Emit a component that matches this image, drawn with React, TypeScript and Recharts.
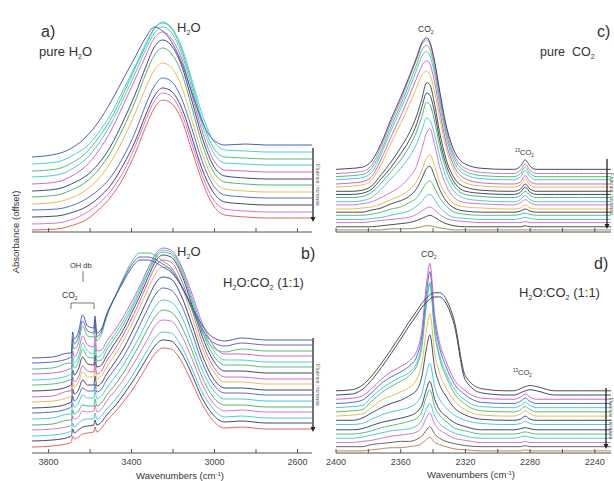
import React from 'react';
import { LineChart, Line, XAxis, YAxis } from 'recharts';

const FONT = 'Arial, "Liberation Sans", Helvetica, sans-serif';

// ---------- Panel a: pure H2O, O-H stretch region (offset absorbance, bottom -> top)
const WN_A = [3880, 3760, 3680, 3620, 3560, 3500, 3440, 3380, 3330, 3290, 3250, 3210, 3160, 3110, 3060, 3010, 2950, 2850, 2750, 2640, 2530];
const SPEC_A = [
  [2, 3, 7, 12, 22, 35, 54, 80, 106, 124, 132, 129, 113, 82, 51, 28, 17, 15, 14, 14, 14],
  [8, 9, 13, 19, 28, 41, 60, 87, 113, 131, 139, 136, 119, 89, 57, 34, 23, 21, 20, 20, 20],
  [15, 16, 20, 25, 34, 47, 67, 92, 118, 136, 144, 141, 125, 95, 63, 41, 30, 28, 27, 27, 27],
  [22, 23, 27, 33, 42, 55, 75, 101, 128, 146, 154, 151, 134, 104, 71, 48, 37, 35, 34, 34, 34],
  [28, 30, 35, 42, 53, 70, 93, 120, 145, 162, 169, 165, 146, 113, 79, 54, 43, 41, 40, 40, 40],
  [35, 37, 43, 50, 62, 80, 104, 132, 159, 177, 184, 179, 160, 125, 88, 62, 50, 48, 47, 47, 47],
  [41, 43, 49, 56, 68, 86, 111, 139, 166, 185, 192, 187, 167, 132, 95, 68, 56, 54, 53, 53, 53],
  [48, 50, 57, 66, 81, 101, 127, 154, 177, 194, 200, 194, 174, 138, 101, 74, 62, 61, 60, 60, 60],
  [55, 57, 64, 73, 88, 108, 133, 160, 183, 199, 205, 200, 179, 144, 107, 81, 69, 68, 67, 67, 67],
  [61, 63, 70, 79, 94, 113, 138, 165, 187, 203, 209, 204, 183, 149, 112, 86, 75, 74, 73, 73, 73],
  [68, 70, 77, 85, 99, 118, 142, 167, 189, 204, 210, 205, 186, 153, 118, 93, 82, 81, 80, 80, 80],
  [75, 78, 85, 95, 110, 130, 153, 176, 195, 205, 201, 191, 170, 140, 111, 93, 87, 88, 87, 87, 87],
];
const COL_A = ['#e4514d', '#d465c8', '#30335e', '#3d5fcc', '#e2b540', '#40ad5c', '#2c3466', '#c955c6', '#3cc3ce', '#47b867', '#39c9d4', '#3550b0'];

// ---------- Panel b: H2O:CO2 (1:1), O-H stretch region
const WN_B = [3880, 3780, 3700, 3690, 3684, 3676, 3656, 3636, 3612, 3582, 3576, 3568, 3545, 3520, 3480, 3440, 3400, 3360, 3320, 3280, 3250, 3210, 3160, 3110, 3060, 3010, 2950, 2870, 2750, 2640, 2530];
const SPEC_B = [
  [6, 7, 10, 11, 17, 14, 16, 19, 20, 21, 26, 21, 25, 32, 41, 51, 62, 75, 89, 101, 105, 104, 92, 71, 49, 33, 25, 26, 24, 24, 24],
  [12, 13, 16, 17, 24, 20, 23, 26, 27, 28, 33, 28, 31, 38, 47, 58, 70, 83, 97, 109, 113, 112, 100, 79, 55, 39, 31, 32, 30, 30, 30],
  [17, 18, 21, 22, 30, 26, 30, 33, 34, 34, 40, 34, 37, 44, 53, 64, 76, 90, 104, 117, 121, 120, 107, 85, 61, 45, 36, 37, 35, 35, 35],
  [23, 24, 27, 28, 37, 34, 36, 42, 41, 42, 48, 41, 44, 52, 62, 73, 86, 100, 115, 129, 133, 132, 118, 95, 69, 51, 42, 43, 41, 41, 41],
  [28, 29, 33, 33, 43, 39, 42, 48, 47, 47, 54, 47, 50, 58, 68, 80, 94, 109, 125, 138, 143, 141, 127, 103, 76, 57, 48, 48, 46, 46, 46],
  [34, 35, 39, 39, 50, 46, 50, 58, 55, 55, 63, 54, 57, 65, 76, 88, 102, 117, 134, 148, 153, 151, 137, 111, 83, 64, 54, 54, 52, 52, 52],
  [40, 41, 45, 46, 57, 52, 57, 65, 62, 62, 69, 61, 64, 73, 84, 96, 111, 128, 145, 160, 165, 163, 148, 121, 91, 70, 60, 60, 58, 58, 58],
  [45, 46, 50, 51, 64, 59, 63, 73, 68, 68, 77, 67, 70, 79, 91, 104, 120, 137, 155, 171, 176, 174, 157, 129, 98, 76, 65, 65, 63, 63, 63],
  [51, 52, 56, 57, 70, 66, 71, 81, 76, 76, 85, 74, 77, 86, 98, 112, 128, 146, 164, 181, 186, 184, 167, 137, 105, 83, 71, 71, 69, 69, 69],
  [56, 57, 62, 62, 76, 71, 76, 87, 82, 81, 91, 79, 82, 92, 104, 118, 134, 152, 171, 188, 193, 191, 173, 144, 111, 88, 76, 76, 74, 74, 74],
  [62, 63, 67, 68, 83, 78, 84, 96, 89, 88, 98, 86, 88, 97, 110, 123, 140, 157, 176, 193, 198, 196, 179, 149, 117, 94, 82, 82, 80, 80, 80],
  [68, 69, 73, 74, 90, 85, 91, 104, 96, 95, 105, 92, 93, 103, 115, 128, 144, 161, 180, 196, 201, 199, 182, 153, 122, 99, 88, 88, 86, 86, 86],
  [73, 74, 78, 79, 96, 90, 96, 110, 102, 99, 110, 96, 98, 107, 119, 132, 147, 164, 182, 198, 203, 201, 185, 156, 126, 104, 93, 93, 91, 91, 91],
  [79, 80, 84, 85, 102, 96, 103, 117, 108, 106, 117, 102, 103, 112, 123, 136, 151, 167, 185, 200, 205, 203, 187, 160, 130, 109, 99, 99, 97, 97, 97],
  [84, 85, 90, 90, 109, 104, 110, 127, 117, 116, 127, 112, 119, 136, 156, 175, 191, 200, 200, 197, 192, 186, 168, 144, 121, 106, 101, 104, 102, 102, 102],
  [90, 91, 95, 96, 115, 109, 116, 132, 122, 120, 133, 116, 122, 138, 156, 173, 188, 196, 196, 193, 189, 183, 167, 146, 124, 111, 107, 110, 108, 108, 108],
  [95, 96, 100, 100, 121, 114, 121, 138, 127, 125, 137, 120, 124, 139, 156, 171, 185, 193, 193, 190, 186, 181, 167, 147, 128, 116, 112, 115, 113, 113, 113],
];
const COL_B = ['#e4514d', '#30335e', '#3cc3ce', '#d465c8', '#40ad5c', '#3cc3ce', '#3d5fcc', '#2c3466', '#e2b540', '#c955c6', '#30335e', '#47b867', '#39c9d4', '#c955c6', '#47b867', '#5a50c0', '#3550b0'];

// ---------- Panel c: pure CO2, nu3 region
const WN_C = [2400, 2390, 2384, 2378, 2372, 2366, 2360, 2355, 2350, 2347, 2344, 2342, 2339, 2336, 2332, 2327, 2320, 2310, 2295, 2290, 2286, 2283, 2280, 2276, 2265, 2250, 2230];
const SPEC_C = [
  [2, 2, 2, 2, 2, 3, 3, 3, 4, 5, 6, 6, 5, 4, 3, 2, 2, 2, 2, 2, 2, 2, 2, 2, 2, 2, 2],
  [5, 5, 5, 5, 6, 7, 8, 9, 11, 13, 15, 16, 14, 11, 8, 6, 5, 5, 5, 5, 5, 6, 5, 5, 5, 5, 5],
  [9, 9, 9, 10, 11, 12, 13, 14, 17, 20, 23, 24, 21, 17, 13, 11, 10, 9, 9, 9, 9, 10, 9, 9, 9, 9, 9],
  [12, 12, 12, 13, 14, 16, 18, 20, 25, 29, 35, 36, 31, 24, 18, 14, 13, 12, 12, 12, 13, 14, 13, 12, 12, 12, 12],
  [16, 16, 16, 17, 19, 22, 24, 28, 33, 40, 47, 49, 42, 33, 25, 19, 17, 16, 16, 16, 17, 18, 17, 16, 16, 16, 16],
  [19, 19, 19, 21, 23, 27, 30, 34, 42, 51, 61, 63, 53, 41, 30, 23, 20, 19, 19, 19, 20, 22, 20, 19, 19, 19, 19],
  [22, 22, 23, 24, 27, 31, 35, 40, 49, 59, 71, 74, 63, 48, 36, 27, 24, 23, 22, 22, 23, 26, 23, 22, 22, 22, 22],
  [26, 26, 27, 29, 33, 38, 44, 52, 64, 79, 95, 99, 83, 63, 45, 33, 28, 27, 26, 26, 28, 31, 28, 26, 26, 26, 26],
  [29, 29, 30, 33, 41, 51, 61, 71, 85, 97, 109, 107, 93, 73, 53, 39, 32, 30, 29, 29, 31, 35, 31, 29, 29, 29, 29],
  [33, 33, 34, 38, 47, 58, 69, 81, 97, 110, 124, 122, 106, 83, 60, 44, 36, 34, 33, 33, 35, 39, 35, 33, 33, 33, 33],
  [36, 36, 37, 41, 51, 62, 75, 87, 104, 119, 133, 131, 114, 89, 65, 48, 39, 37, 36, 36, 38, 43, 38, 36, 36, 36, 36],
  [39, 39, 40, 44, 55, 67, 81, 94, 112, 127, 143, 141, 122, 96, 70, 52, 43, 40, 39, 39, 41, 46, 41, 39, 39, 39, 39],
  [43, 44, 45, 50, 65, 85, 104, 121, 139, 150, 154, 151, 134, 110, 81, 59, 47, 44, 43, 43, 45, 51, 45, 43, 43, 43, 43],
  [46, 47, 48, 53, 70, 91, 111, 129, 148, 159, 164, 161, 143, 117, 86, 63, 51, 47, 46, 46, 48, 54, 48, 46, 46, 46, 46],
  [50, 51, 52, 57, 75, 97, 118, 136, 156, 168, 173, 169, 151, 124, 92, 67, 55, 51, 50, 50, 53, 59, 53, 50, 50, 50, 50],
  [53, 54, 55, 61, 78, 101, 122, 141, 161, 174, 179, 175, 156, 129, 96, 71, 58, 54, 53, 53, 56, 62, 56, 53, 53, 53, 53],
  [56, 57, 58, 64, 82, 105, 126, 146, 166, 179, 184, 180, 161, 133, 100, 74, 61, 57, 56, 56, 59, 65, 59, 56, 56, 56, 56],
  [60, 61, 62, 68, 85, 108, 129, 148, 168, 181, 186, 182, 163, 136, 103, 78, 65, 61, 60, 60, 63, 69, 63, 60, 60, 60, 60],
];
const COL_C = ['#9b7b5a', '#3a3a3a', '#d465c8', '#3cc3ce', '#47b867', '#30335e', '#e2b540', '#d465c8', '#3cc3ce', '#40ad5c', '#2c3466', '#3a3a3a', '#e2b540', '#c955c6', '#3cc3ce', '#47b867', '#d465c8', '#30335e'];

// ---------- Panel d: H2O:CO2 (1:1), nu3 region
const WN_D = [2400, 2390, 2384, 2378, 2372, 2366, 2360, 2355, 2350, 2347, 2344, 2342, 2339, 2336, 2332, 2327, 2320, 2310, 2295, 2290, 2286, 2283, 2280, 2276, 2265, 2250, 2230];
const SPEC_D = [
  [2, 2, 2, 3, 4, 5, 5, 6, 7, 9, 13, 15, 10, 8, 6, 4, 3, 2, 2, 2, 2, 3, 2, 2, 2, 2, 2],
  [6, 6, 6, 8, 9, 10, 11, 11, 13, 16, 22, 25, 18, 14, 11, 9, 7, 6, 6, 6, 6, 7, 6, 6, 6, 6, 6],
  [10, 10, 11, 12, 14, 16, 17, 18, 20, 24, 34, 38, 27, 22, 18, 14, 12, 10, 10, 10, 10, 11, 10, 10, 10, 10, 10],
  [14, 14, 15, 17, 19, 21, 22, 23, 26, 31, 42, 47, 35, 28, 23, 19, 16, 14, 14, 14, 15, 16, 15, 14, 14, 14, 14],
  [18, 18, 19, 21, 24, 26, 28, 30, 33, 39, 54, 60, 44, 36, 30, 24, 21, 18, 18, 18, 19, 20, 19, 18, 18, 18, 18],
  [22, 22, 23, 26, 29, 31, 33, 35, 39, 45, 61, 68, 51, 41, 35, 29, 25, 22, 22, 22, 23, 24, 23, 22, 22, 22, 22],
  [27, 27, 28, 32, 36, 39, 41, 43, 48, 56, 76, 85, 63, 51, 43, 36, 31, 28, 27, 27, 28, 30, 28, 27, 27, 27, 27],
  [31, 31, 33, 38, 43, 47, 50, 54, 60, 72, 100, 112, 81, 65, 54, 43, 36, 32, 31, 31, 32, 35, 32, 31, 31, 31, 31],
  [35, 36, 37, 43, 50, 54, 58, 62, 70, 84, 118, 132, 95, 76, 62, 50, 41, 36, 35, 35, 37, 40, 37, 35, 35, 35, 35],
  [39, 40, 41, 49, 57, 63, 68, 73, 83, 100, 142, 160, 114, 90, 73, 57, 46, 40, 39, 39, 41, 44, 41, 39, 39, 39, 39],
  [43, 44, 45, 53, 61, 67, 72, 76, 86, 103, 144, 162, 117, 93, 76, 61, 50, 44, 43, 43, 45, 48, 45, 43, 43, 43, 43],
  [47, 48, 50, 57, 66, 72, 77, 82, 92, 110, 153, 172, 125, 100, 82, 66, 55, 48, 47, 47, 49, 52, 49, 47, 47, 47, 47],
  [51, 52, 54, 61, 70, 77, 82, 87, 97, 116, 161, 180, 131, 105, 87, 70, 59, 52, 51, 51, 53, 56, 53, 51, 51, 51, 51],
  [55, 56, 60, 69, 81, 94, 108, 120, 131, 138, 143, 146, 148, 148, 142, 122, 69, 57, 55, 55, 57, 59, 60, 59, 55, 55, 55],
  [59, 60, 64, 73, 85, 98, 112, 124, 135, 142, 147, 150, 152, 152, 146, 126, 73, 61, 59, 59, 61, 63, 64, 63, 59, 59, 59],
];
const COL_D = ['#b07a50', '#555555', '#d465c8', '#3cc3ce', '#47b867', '#30335e', '#3cc3ce', '#2c3466', '#e2b540', '#47b867', '#3cc3ce', '#3d5fcc', '#c955c6', '#30335e', '#3a3a3a'];

// ---------- axes ticks
const TICKS_LEFT = [3800, 3600, 3400, 3200, 3000, 2800, 2600];
const LABELS_LEFT = [3800, 3400, 3000, 2600];
const TICKS_RIGHT = [2400, 2380, 2360, 2340, 2320, 2300, 2280, 2260, 2240];
const LABELS_RIGHT = [2400, 2360, 2320, 2280, 2240];

function buildRows(wn: number[], spectra: number[][]) {
  return wn.map((w, j) => {
    const row: Record<string, number> = { wn: w };
    spectra.forEach((s, i) => {
      row['s' + i] = s[j];
    });
    return row;
  });
}

const makeTick = (labels: number[]) => (props: any) => {
  const { x, y, payload } = props;
  const show = labels.includes(payload.value);
  return (
    <g>
      <line x1={x} x2={x} y1={y} y2={y - 4} stroke="#555" strokeWidth={1} />
      {show ? (
        <text x={x} y={y + 12} textAnchor="middle" fontSize={9} fill="#444" fontFamily={FONT}>
          {payload.value}
        </text>
      ) : null}
    </g>
  );
};

type PanelProps = {
  left: number;
  top: number;
  width: number;
  height: number;
  margin: { top: number; right: number; bottom: number; left: number };
  xDomain: [number, number];
  ticks: number[];
  labels: number[];
  yMax: number;
  wn: number[];
  spectra: number[][];
  colors: string[];
  axisHeight: number;
};

function Panel(p: PanelProps) {
  const data = buildRows(p.wn, p.spectra);
  return (
    <div style={{ position: 'absolute', left: p.left, top: p.top }}>
      <LineChart width={p.width} height={p.height} data={data} margin={p.margin}>
        <XAxis
          dataKey="wn"
          type="number"
          domain={p.xDomain}
          reversed
          allowDataOverflow
          ticks={p.ticks}
          interval={0}
          tickSize={0}
          tickMargin={0}
          tick={makeTick(p.labels)}
          tickLine={false}
          axisLine={{ stroke: '#555', strokeWidth: 1 }}
          height={p.axisHeight}
        />
        <YAxis
          type="number"
          domain={[0, p.yMax]}
          allowDataOverflow
          width={0}
          tick={false}
          tickLine={false}
          axisLine={{ stroke: '#555', strokeWidth: 1 }}
        />
        {p.spectra.map((_, i) => (
          <Line
            key={i}
            dataKey={'s' + i}
            type="monotone"
            stroke={p.colors[i % p.colors.length]}
            strokeWidth={0.9}
            dot={false}
            isAnimationActive={false}
          />
        ))}
      </LineChart>
    </div>
  );
}

function Arrow({ x, y1, y2 }: { x: number; y1: number; y2: number }) {
  return (
    <g>
      <line x1={x} x2={x} y1={y1} y2={y2 - 4} stroke="#222" strokeWidth={1.3} />
      <path d={`M${x - 2.5},${y2 - 5} L${x + 2.5},${y2 - 5} L${x},${y2} Z`} fill="#222" />
      <text
        transform={`translate(${x + 3},${(y1 + y2) / 2}) rotate(90)`}
        textAnchor="middle"
        fontSize={5.5}
        fill="#555"
        fontFamily={FONT}
      >
        Fluence increase
      </text>
    </g>
  );
}

function H2O({ x, y, fs }: { x: number; y: number; fs: number }) {
  return (
    <text x={x} y={y} fontSize={fs} fill="#333" fontFamily={FONT}>
      H<tspan fontSize={fs * 0.55} dy={fs * 0.2}>2</tspan>
      <tspan dy={-fs * 0.2}>O</tspan>
    </text>
  );
}

function Mix({ x, y, fs }: { x: number; y: number; fs: number }) {
  return (
    <text x={x} y={y} fontSize={fs} fill="#333" fontFamily={FONT}>
      H<tspan fontSize={fs * 0.55} dy={fs * 0.2}>2</tspan>
      <tspan dy={-fs * 0.2}>O:CO</tspan>
      <tspan fontSize={fs * 0.55} dy={fs * 0.2}>2</tspan>
      <tspan dy={-fs * 0.2}>{'\u00a0(1:1)'}</tspan>
    </text>
  );
}

function CO2({ x, y, fs, iso }: { x: number; y: number; fs: number; iso?: boolean }) {
  return (
    <text x={x} y={y} fontSize={fs} fill="#333" fontFamily={FONT}>
      {iso ? (
        <tspan fontSize={fs * 0.6} dy={-fs * 0.35}>13</tspan>
      ) : null}
      <tspan dy={iso ? fs * 0.35 : 0}>CO</tspan>
      <tspan fontSize={fs * 0.6} dy={fs * 0.2}>2</tspan>
    </text>
  );
}

export default function App() {
  return (
    <div style={{ position: 'absolute', left: 0, top: 0, width: 614, height: 481, background: '#fff', overflow: 'hidden' }}>
      <Panel left={0} top={0} width={320} height={240} margin={{ top: 13, right: 8, bottom: 0, left: 32 }}
        xDomain={[2530, 3880]} ticks={TICKS_LEFT} labels={[]} yMax={219} wn={WN_A} spectra={SPEC_A} colors={COL_A} axisHeight={8} />
      <Panel left={0} top={232} width={320} height={249} margin={{ top: 6, right: 8, bottom: 0, left: 32 }}
        xDomain={[2530, 3880]} ticks={TICKS_LEFT} labels={LABELS_LEFT} yMax={215} wn={WN_B} spectra={SPEC_B} colors={COL_B} axisHeight={28} />
      <Panel left={320} top={0} width={294} height={240} margin={{ top: 19, right: 3, bottom: 0, left: 16 }}
        xDomain={[2230, 2400]} ticks={TICKS_RIGHT} labels={[]} yMax={204} wn={WN_C} spectra={SPEC_C} colors={COL_C} axisHeight={8} />
      <Panel left={320} top={232} width={294} height={249} margin={{ top: 8, right: 3, bottom: 0, left: 16 }}
        xDomain={[2230, 2400]} ticks={TICKS_RIGHT} labels={LABELS_RIGHT} yMax={202} wn={WN_D} spectra={SPEC_D} colors={COL_D} axisHeight={28} />

      <svg width={614} height={481} style={{ position: 'absolute', left: 0, top: 0, pointerEvents: 'none' }}>
        <text transform="translate(19,232) rotate(-90)" textAnchor="middle" fontSize={9.5} fill="#333" fontFamily={FONT}>
          Absorbance (offset)
        </text>

        {/* panel a */}
        <text x={41} y={37} fontSize={16} fill="#333" fontFamily={FONT}>a)</text>
        <text x={39} y={56} fontSize={13} fill="#333" fontFamily={FONT}>
          pure H<tspan fontSize={7} dy={2.6}>2</tspan><tspan dy={-2.6}>O</tspan>
        </text>
        <H2O x={177} y={32} fs={13} />
        <Arrow x={313} y1={148} y2={222} />

        {/* panel b */}
        <H2O x={177} y={256} fs={13} />
        <text x={301} y={259} fontSize={16} fill="#333" fontFamily={FONT}>b)</text>
        <Mix x={223} y={287} fs={13} />
        <text x={70} y={268} fontSize={7.5} fill="#333" fontFamily={FONT}>OH db</text>
        <line x1={83} x2={83} y1={271} y2={282} stroke="#555" strokeWidth={0.8} />
        <CO2 x={62} y={298} fs={8.5} />
        <path d="M71,309 V303 H94 V309" fill="none" stroke="#555" strokeWidth={0.8} />
        <Arrow x={313} y1={338} y2={432} />
        <text x={180} y={479} textAnchor="middle" fontSize={9.5} fill="#333" fontFamily={FONT}>
          Wavenumbers (cm<tspan fontSize={6} dy={-3.5}>-1</tspan><tspan dy={3.5}>)</tspan>
        </text>

        {/* panel c */}
        <CO2 x={418} y={32} fs={8.5} />
        <text x={597} y={37} fontSize={16} fill="#333" fontFamily={FONT}>c)</text>
        <text x={540} y={56} fontSize={12.5} fill="#333" fontFamily={FONT}>
          {'pure\u00a0\u00a0CO'}<tspan fontSize={7} dy={2.5}>2</tspan>
        </text>
        <CO2 x={515} y={155} fs={7.5} iso />
        <Arrow x={607} y1={159} y2={229} />

        {/* panel d */}
        <CO2 x={421} y={257} fs={8.5} />
        <text x={594} y={269} fontSize={16} fill="#333" fontFamily={FONT}>d)</text>
        <Mix x={519} y={297} fs={13} />
        <CO2 x={513} y={375} fs={7.5} iso />
        <Arrow x={606} y1={388} y2={449} />
        <text x={471} y={478} textAnchor="middle" fontSize={9.5} fill="#333" fontFamily={FONT}>
          Wavenumbers (cm<tspan fontSize={6} dy={-3.5}>-1</tspan><tspan dy={3.5}>)</tspan>
        </text>
      </svg>
    </div>
  );
}
